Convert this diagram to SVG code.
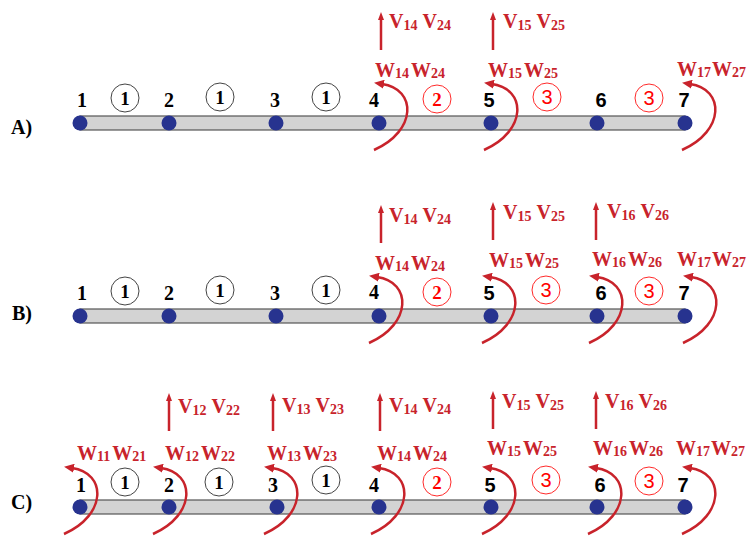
<svg xmlns="http://www.w3.org/2000/svg" width="748" height="537" viewBox="0 0 748 537">
  <style>
    .beam { fill: #d3d3d3; stroke: #555; stroke-width: 1.2; }
    .dot { fill: #27338f; }
    .num { font-family: "Liberation Serif", serif; font-weight: bold; font-size: 20px; fill: #000; text-anchor: middle; }
    .nums { font-family: "Liberation Sans", sans-serif; font-weight: bold; font-size: 20px; fill: #000; text-anchor: middle; }
    .row { font-family: "Liberation Serif", serif; font-weight: bold; font-size: 20px; fill: #000; }
    .el1 circle { fill: #fff; stroke: #444; stroke-width: 1; }
    .el1 text { font-family: "Liberation Serif", serif; font-weight: bold; font-size: 19px; fill: #000; text-anchor: middle; }
    .el2 circle, .el3 circle { fill: #fff; stroke: #ff2a2a; stroke-width: 1; }
    .el2 text { font-family: "Liberation Serif", serif; font-weight: bold; font-size: 19px; fill: #ff0000; text-anchor: middle; }
    .el3 text { font-family: "Liberation Sans", sans-serif; font-size: 20px; fill: #ff0000; text-anchor: middle; }
    .f { font-family: "Liberation Serif", serif; font-weight: bold; font-size: 20px; fill: #c8232b; }
    .s { font-size: 14px; }
    .mom { fill: none; stroke: #c8232b; stroke-width: 2.5; marker-end: url(#headArc); }
    .vup { fill: none; stroke: #c8232b; stroke-width: 2.5; marker-end: url(#headV); }
  </style>
  <defs>
    <marker id="headArc" viewBox="0 0 10 9" refX="2" refY="4.5" markerWidth="10" markerHeight="9" markerUnits="userSpaceOnUse" orient="auto">
      <path d="M0,0 L10,4.5 L0,9 z" fill="#c8232b"/>
    </marker>
    <marker id="headV" viewBox="0 0 8 6" refX="1" refY="3" markerWidth="8" markerHeight="6" markerUnits="userSpaceOnUse" orient="auto">
      <path d="M0,0 L8,3 L0,6 z" fill="#c8232b"/>
    </marker>
    <!-- rotation (moment) arrow, origin = arrow tip x / node y -->
    <path id="mom" class="mom" d="M1,27 C44,8 44,-34 9,-39"/>
    <!-- vertical force arrow, origin = arrow tip -->
    <path id="vup" class="vup" d="M0,38 V7"/>
  </defs>

  <!-- ===== Case A ===== -->
  <g id="caseA">
    <text class="row" x="11" y="134">A)</text>
    <rect class="beam" x="80" y="116" width="605" height="14"/>
    <g id="A-elements">
      <g class="el1"><circle cx="125" cy="98" r="14"/><text x="125" y="105">1</text></g>
      <g class="el1"><circle cx="220" cy="97" r="14"/><text x="220" y="104">1</text></g>
      <g class="el1"><circle cx="326" cy="97" r="14"/><text x="326" y="104">1</text></g>
      <g class="el2"><circle cx="437" cy="99" r="14"/><text x="437" y="106">2</text></g>
      <g class="el3"><circle cx="547" cy="97" r="14"/><text x="547" y="104">3</text></g>
      <g class="el3"><circle cx="649" cy="98" r="14"/><text x="649" y="105">3</text></g>
    </g>
    <g id="A-n1"><circle class="dot" cx="80" cy="123" r="7.5"/><text class="num" x="82" y="107">1</text></g>
    <g id="A-n2"><circle class="dot" cx="169" cy="123" r="7.5"/><text class="num" x="169" y="107">2</text></g>
    <g id="A-n3"><circle class="dot" cx="276" cy="123" r="7.5"/><text class="num" x="275" y="107">3</text></g>
    <g id="A-n4"><circle class="dot" cx="379" cy="123" r="7.5"/><text class="num" x="374" y="107">4</text></g>
    <g id="A-n5"><circle class="dot" cx="491" cy="123" r="7.5"/><text class="nums" x="489" y="107">5</text></g>
    <g id="A-n6"><circle class="dot" cx="597" cy="123" r="7.5"/><text class="nums" x="601" y="107">6</text></g>
    <g id="A-n7"><circle class="dot" cx="685" cy="123" r="7.5"/><text class="nums" x="684" y="107">7</text></g>
    <g id="A-loads">
      <use href="#vup" x="381" y="12"/>
      <use href="#vup" x="493" y="12"/>
      <use href="#mom" x="373" y="123"/>
      <use href="#mom" x="483" y="123"/>
      <use href="#mom" x="681" y="123"/>
      <text class="f" x="389" y="28">V<tspan class="s" dy="2">14</tspan><tspan dx="5" dy="-2">V</tspan><tspan class="s" dy="2">24</tspan></text>
      <text class="f" x="503" y="28">V<tspan class="s" dy="2">15</tspan><tspan dx="5" dy="-2">V</tspan><tspan class="s" dy="2">25</tspan></text>
      <text class="f" x="375" y="77">W<tspan class="s" dy="1">14</tspan><tspan dx="2" dy="-1">W</tspan><tspan class="s" dy="1">24</tspan></text>
      <text class="f" x="488" y="77">W<tspan class="s" dy="1">15</tspan><tspan dx="2" dy="-1">W</tspan><tspan class="s" dy="1">25</tspan></text>
      <text class="f" x="677" y="76">W<tspan class="s" dy="1">17</tspan><tspan dx="1" dy="-1">W</tspan><tspan class="s" dy="1">27</tspan></text>
    </g>
  </g>

  <!-- ===== Case B ===== -->
  <g id="caseB">
    <text class="row" x="12" y="320">B)</text>
    <rect class="beam" x="80" y="309" width="605" height="14"/>
    <g id="B-elements">
      <g class="el1"><circle cx="125" cy="291" r="14"/><text x="125" y="298">1</text></g>
      <g class="el1"><circle cx="220" cy="290" r="14"/><text x="220" y="297">1</text></g>
      <g class="el1"><circle cx="326" cy="290" r="14"/><text x="326" y="297">1</text></g>
      <g class="el2"><circle cx="437" cy="292" r="14"/><text x="437" y="299">2</text></g>
      <g class="el3"><circle cx="546" cy="290" r="14"/><text x="546" y="297">3</text></g>
      <g class="el3"><circle cx="649" cy="291" r="14"/><text x="649" y="298">3</text></g>
    </g>
    <g id="B-n1"><circle class="dot" cx="80" cy="316" r="7.5"/><text class="num" x="82" y="300">1</text></g>
    <g id="B-n2"><circle class="dot" cx="169" cy="316" r="7.5"/><text class="num" x="169" y="300">2</text></g>
    <g id="B-n3"><circle class="dot" cx="276" cy="316" r="7.5"/><text class="num" x="275" y="300">3</text></g>
    <g id="B-n4"><circle class="dot" cx="379" cy="316" r="7.5"/><text class="num" x="374" y="299">4</text></g>
    <g id="B-n5"><circle class="dot" cx="491" cy="316" r="7.5"/><text class="nums" x="489" y="300">5</text></g>
    <g id="B-n6"><circle class="dot" cx="597" cy="316" r="7.5"/><text class="nums" x="601" y="300">6</text></g>
    <g id="B-n7"><circle class="dot" cx="685" cy="316" r="7.5"/><text class="nums" x="684" y="300">7</text></g>
    <g id="B-loads">
      <use href="#vup" x="381" y="205"/>
      <use href="#vup" x="493" y="202"/>
      <use href="#vup" x="596" y="202"/>
      <use href="#mom" x="368" y="316"/>
      <use href="#mom" x="481" y="316"/>
      <use href="#mom" x="588" y="316"/>
      <use href="#mom" x="682" y="316"/>
      <text class="f" x="389" y="222">V<tspan class="s" dy="2">14</tspan><tspan dx="5" dy="-2">V</tspan><tspan class="s" dy="2">24</tspan></text>
      <text class="f" x="503" y="219">V<tspan class="s" dy="2">15</tspan><tspan dx="5" dy="-2">V</tspan><tspan class="s" dy="2">25</tspan></text>
      <text class="f" x="607" y="218">V<tspan class="s" dy="2">16</tspan><tspan dx="5" dy="-2">V</tspan><tspan class="s" dy="2">26</tspan></text>
      <text class="f" x="375" y="270">W<tspan class="s" dy="1">14</tspan><tspan dx="2" dy="-1">W</tspan><tspan class="s" dy="1">24</tspan></text>
      <text class="f" x="489" y="267">W<tspan class="s" dy="1">15</tspan><tspan dx="2" dy="-1">W</tspan><tspan class="s" dy="1">25</tspan></text>
      <text class="f" x="592" y="266">W<tspan class="s" dy="1">16</tspan><tspan dx="2" dy="-1">W</tspan><tspan class="s" dy="1">26</tspan></text>
      <text class="f" x="677" y="266">W<tspan class="s" dy="1">17</tspan><tspan dx="1" dy="-1">W</tspan><tspan class="s" dy="1">27</tspan></text>
    </g>
  </g>

  <!-- ===== Case C ===== -->
  <g id="caseC">
    <text class="row" x="11" y="509">C)</text>
    <rect class="beam" x="80" y="500" width="605" height="14"/>
    <g id="C-elements">
      <g class="el1"><circle cx="125" cy="482" r="14"/><text x="125" y="489">1</text></g>
      <g class="el1"><circle cx="219" cy="482" r="14"/><text x="219" y="489">1</text></g>
      <g class="el1"><circle cx="326" cy="480" r="14"/><text x="326" y="487">1</text></g>
      <g class="el2"><circle cx="437" cy="482" r="14"/><text x="437" y="489">2</text></g>
      <g class="el3"><circle cx="546" cy="480" r="14"/><text x="546" y="487">3</text></g>
      <g class="el3"><circle cx="649" cy="481" r="14"/><text x="649" y="488">3</text></g>
    </g>
    <g id="C-n1"><circle class="dot" cx="80" cy="507" r="7.5"/><text class="num" x="81" y="492">1</text></g>
    <g id="C-n2"><circle class="dot" cx="169" cy="507" r="7.5"/><text class="num" x="169" y="492">2</text></g>
    <g id="C-n3"><circle class="dot" cx="277" cy="507" r="7.5"/><text class="num" x="273" y="492">3</text></g>
    <g id="C-n4"><circle class="dot" cx="379" cy="507" r="7.5"/><text class="num" x="374" y="492">4</text></g>
    <g id="C-n5"><circle class="dot" cx="491" cy="507" r="7.5"/><text class="nums" x="490" y="492">5</text></g>
    <g id="C-n6"><circle class="dot" cx="597" cy="507" r="7.5"/><text class="nums" x="600" y="492">6</text></g>
    <g id="C-n7"><circle class="dot" cx="685" cy="507" r="7.5"/><text class="nums" x="683" y="492">7</text></g>
    <g id="C-loads">
      <use href="#vup" x="169" y="393"/>
      <use href="#vup" x="273" y="393"/>
      <use href="#vup" x="380" y="393"/>
      <use href="#vup" x="493" y="391"/>
      <use href="#vup" x="596" y="391"/>
      <use href="#mom" x="63" y="507"/>
      <use href="#mom" x="152" y="507"/>
      <use href="#mom" x="263" y="507"/>
      <use href="#mom" x="370" y="507"/>
      <use href="#mom" x="481" y="507"/>
      <use href="#mom" x="587" y="507"/>
      <use href="#mom" x="681" y="507"/>
      <text class="f" x="178" y="413">V<tspan class="s" dy="2">12</tspan><tspan dx="5" dy="-2">V</tspan><tspan class="s" dy="2">22</tspan></text>
      <text class="f" x="282" y="412">V<tspan class="s" dy="2">13</tspan><tspan dx="5" dy="-2">V</tspan><tspan class="s" dy="2">23</tspan></text>
      <text class="f" x="389" y="412">V<tspan class="s" dy="2">14</tspan><tspan dx="5" dy="-2">V</tspan><tspan class="s" dy="2">24</tspan></text>
      <text class="f" x="502" y="408">V<tspan class="s" dy="2">15</tspan><tspan dx="5" dy="-2">V</tspan><tspan class="s" dy="2">25</tspan></text>
      <text class="f" x="605" y="408">V<tspan class="s" dy="2">16</tspan><tspan dx="5" dy="-2">V</tspan><tspan class="s" dy="2">26</tspan></text>
      <text class="f" x="77" y="460">W<tspan class="s" dy="1">11</tspan><tspan dx="2" dy="-1">W</tspan><tspan class="s" dy="1">21</tspan></text>
      <text class="f" x="165" y="460">W<tspan class="s" dy="1">12</tspan><tspan dx="2" dy="-1">W</tspan><tspan class="s" dy="1">22</tspan></text>
      <text class="f" x="267" y="460">W<tspan class="s" dy="1">13</tspan><tspan dx="2" dy="-1">W</tspan><tspan class="s" dy="1">23</tspan></text>
      <text class="f" x="377" y="460">W<tspan class="s" dy="1">14</tspan><tspan dx="2" dy="-1">W</tspan><tspan class="s" dy="1">24</tspan></text>
      <text class="f" x="487" y="455">W<tspan class="s" dy="1">15</tspan><tspan dx="2" dy="-1">W</tspan><tspan class="s" dy="1">25</tspan></text>
      <text class="f" x="593" y="455">W<tspan class="s" dy="1">16</tspan><tspan dx="2" dy="-1">W</tspan><tspan class="s" dy="1">26</tspan></text>
      <text class="f" x="676" y="455">W<tspan class="s" dy="1">17</tspan><tspan dx="1" dy="-1">W</tspan><tspan class="s" dy="1">27</tspan></text>
    </g>
  </g>
</svg>
